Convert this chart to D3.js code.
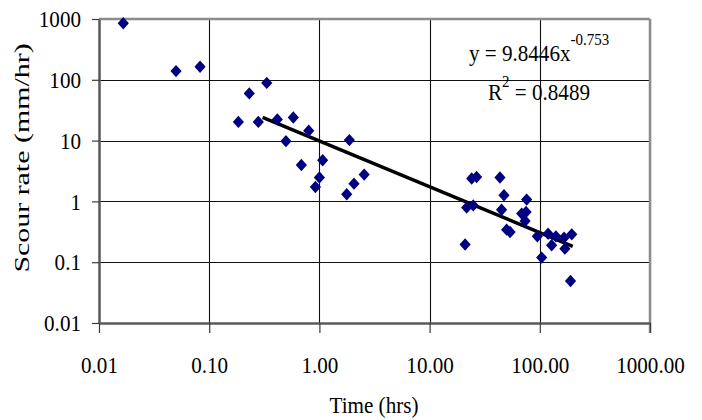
<!DOCTYPE html>
<html>
<head>
<meta charset="utf-8">
<script src="https://cdn.jsdelivr.net/npm/d3@7"></script>
<style>
  html, body { margin: 0; padding: 0; background: #fff; }
  svg { display: block; }
  text { font-family: "Liberation Serif", "Times New Roman", Times, serif; fill: #000; }
</style>
</head>
<body>
<svg id="chart" width="702" height="420"></svg>
<script>
// Scour rate measurements against elapsed time (log-log)
const timeHrs = [
  0.0166, 0.05, 0.0826, 0.184, 0.231, 0.279, 0.333, 0.415, 0.497, 0.58,
  0.686, 0.8, 0.92, 1.0, 1.07, 1.77, 1.87, 2.06, 2.55,
  21.0, 21.7, 24.9, 24.1, 26.7, 43.5, 45, 47.3, 50, 53.7,
  68.5, 75, 73.5, 76, 95, 104, 119, 128, 140, 166, 169, 195, 190
];
const scourRate = [
  850, 139, 164, 20.3, 59.7, 20.3, 89, 22.3, 9.8, 24,
  3.98, 14.5, 1.73, 2.47, 4.75, 1.31, 10.2, 1.96, 2.76,
  0.196, 0.79, 0.86, 2.38, 2.52, 2.47, 0.73, 1.26, 0.343, 0.313,
  0.63, 0.67, 0.475, 1.07, 0.266, 0.119, 0.294, 0.19, 0.266, 0.253, 0.167, 0.287, 0.049
];

// Power-law trend y = a * x^b and the time span it is drawn over
const trendCoef = [9.8446, -0.753];
const trendRange = [0.305, 199];
const rSquared = "0.8489";

const xTicks = [0.01, 0.1, 1, 10, 100, 1000];
const yTicks = [0.01, 0.1, 1, 10, 100, 1000];
const xTickLabels = ["0.01", "0.10", "1.00", "10.00", "100.00", "1000.00"];
const yTickLabels = ["0.01", "0.1", "1", "10", "100", "1000"];

const xTitle = "Time (hrs)";
const yTitle = "Scour rate (mm/hr)";

// Glyphs in this figure are narrower than they are tall
const squeeze = 0.88;

const svg = d3.select("#chart");
svg.append("rect").attr("width", 702).attr("height", 420).attr("fill", "#fff");

const plot = { left: 99, right: 650, top: 19, bottom: 323 };

const x = d3.scaleLog().domain([0.01, 1000]).range([plot.left, plot.right]);
const y = d3.scaleLog().domain([0.01, 1000]).range([plot.bottom, plot.top]);

// Grid lines at every decade
const grid = svg.append("g").attr("stroke", "#111").attr("stroke-width", 1.1);
grid.selectAll("line.v").data(xTicks).join("line")
  .attr("class", "v")
  .attr("x1", d => Math.round(x(d)) + 0.5).attr("x2", d => Math.round(x(d)) + 0.5)
  .attr("y1", plot.top).attr("y2", plot.bottom);
grid.selectAll("line.h").data(yTicks).join("line")
  .attr("class", "h")
  .attr("y1", d => Math.round(y(d)) + 0.5).attr("y2", d => Math.round(y(d)) + 0.5)
  .attr("x1", plot.left).attr("x2", plot.right);

// Plot frame: light top/right, darker axis lines
svg.append("line").attr("x1", plot.left).attr("x2", plot.right)
  .attr("y1", plot.top).attr("y2", plot.top)
  .attr("stroke", "#8c8c8c").attr("stroke-width", 2.5);
svg.append("line").attr("x1", plot.right).attr("x2", plot.right)
  .attr("y1", plot.top).attr("y2", plot.bottom + 10)
  .attr("stroke", "#8c8c8c").attr("stroke-width", 2.5);

// Axes
const fmtX = d => xTickLabels[xTicks.indexOf(d)];
const fmtY = d => yTickLabels[yTicks.indexOf(d)];

const xAxis = svg.append("g")
  .attr("transform", `translate(0,${plot.bottom})`)
  .call(d3.axisBottom(x).tickValues(xTicks).tickFormat(fmtX)
    .tickSize(10).tickSizeOuter(0).tickPadding(25));
const yAxis = svg.append("g")
  .attr("transform", `translate(${plot.left},0)`)
  .call(d3.axisLeft(y).tickValues(yTicks).tickFormat(fmtY)
    .tickSize(7).tickSizeOuter(0).tickPadding(11));

[xAxis, yAxis].forEach(g => {
  g.select(".domain").attr("stroke", "#5a5a5a").attr("stroke-width", 2.5);
  g.selectAll(".tick line").attr("stroke", "#3a3a3a").attr("stroke-width", 1.2);
  g.selectAll(".tick text")
    .attr("font-size", 24)
    .attr("font-family", "Liberation Serif, Times New Roman, serif")
    .attr("fill", "#000")
    .each(function () {
      const t = d3.select(this);
      const tx = +t.attr("x") || 0;
      t.attr("x", 0).attr("transform", `translate(${tx},0) scale(${squeeze},1)`);
    });
});
xAxis.selectAll(".tick text").attr("dy", "0.62em");

// Fitted power-law trend line
const trendLine = trendRange.map(t => [t, trendCoef[0] * Math.pow(t, trendCoef[1])]);
svg.append("path")
  .datum(trendLine)
  .attr("fill", "none")
  .attr("stroke", "#000")
  .attr("stroke-width", 3.5)
  .attr("d", d3.line().x(d => x(d[0])).y(d => y(d[1])));

// Diamond markers
const diamond = {
  draw(ctx) {
    ctx.moveTo(0, -6.2);
    ctx.lineTo(5.6, 0);
    ctx.lineTo(0, 6.2);
    ctx.lineTo(-5.6, 0);
    ctx.closePath();
  }
};
const points = timeHrs.map((t, i) => ({ t, r: scourRate[i] }));
svg.append("g").selectAll("path").data(points).join("path")
  .attr("d", d3.symbol(diamond))
  .attr("transform", d => `translate(${x(d.t)},${y(d.r)})`)
  .attr("fill", "#000080");

// Trend equation
const eq = svg.append("g").attr("transform", `translate(539,0) scale(${squeeze},1)`);
const l1 = eq.append("text").attr("y", 61).attr("text-anchor", "middle").attr("font-size", 24);
l1.append("tspan").text(`y = ${trendCoef[0]}x`);
l1.append("tspan").attr("font-size", 17).attr("dy", -16).text(trendCoef[1]);
const l2 = eq.append("text").attr("y", 100).attr("text-anchor", "middle").attr("font-size", 24);
l2.append("tspan").text("R");
l2.append("tspan").attr("font-size", 17).attr("dy", -13).text("2");
l2.append("tspan").attr("dy", 13).text(` = ${rSquared}`);

// Axis titles
svg.append("text")
  .attr("transform", `translate(374,413) scale(${squeeze},1)`)
  .attr("text-anchor", "middle")
  .attr("font-size", 24)
  .text(xTitle);
svg.append("text")
  .attr("transform", `translate(29,158) rotate(-90) scale(1.36,1)`)
  .attr("text-anchor", "middle")
  .attr("font-size", 22)
  .text(yTitle);
</script>
</body>
</html>
